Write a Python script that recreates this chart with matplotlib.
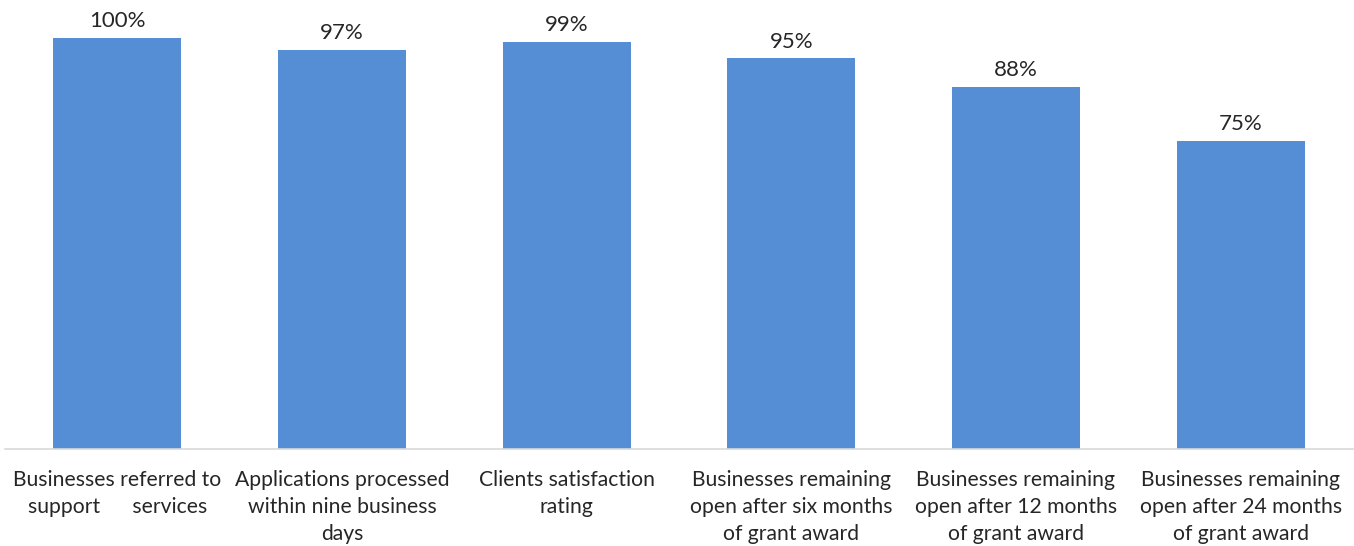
import matplotlib.pyplot as plt

categories = ['Businesses referred to\nsupport      services',
              'Applications processed\nwithin nine business\ndays',
              'Clients satisfaction\nrating',
              'Businesses remaining\nopen after six months\nof grant award',
              'Businesses remaining\nopen after 12 months\nof grant award',
              'Businesses remaining\nopen after 24 months\nof grant award']
values = [100, 97, 99, 95, 88, 75]

plt.rcParams['font.family'] = ['Lato', 'DejaVu Sans']

fig = plt.figure(figsize=(13.54, 5.46), dpi=100)
ax = fig.add_axes([5 / 1354, 97 / 546, 1348 / 1354, 444 / 546])

x = range(len(categories))
bars = ax.bar(x, values, width=0.57, color='#558ED5')
for b, v in zip(bars, values):
    ax.annotate(f'{v}%', (b.get_x() + b.get_width() / 2, v), xytext=(0, 5),
                textcoords='offset points', ha='center', va='bottom',
                fontsize=16, color='#262626')

ax.set_xlim(-0.5, len(categories) - 0.5)
ax.set_ylim(0, 108)
ax.set_xticks(list(x))
ax.set_xticklabels(categories, fontsize=15.2, color='#262626', linespacing=1.44)
ax.tick_params(axis='x', length=0, pad=15)
ax.set_yticks([])
for s in ['top', 'right', 'left']:
    ax.spines[s].set_visible(False)
ax.spines['bottom'].set_color('#D9D9D9')
ax.spines['bottom'].set_linewidth(1.2)

fig.savefig('out.png', dpi=100)
